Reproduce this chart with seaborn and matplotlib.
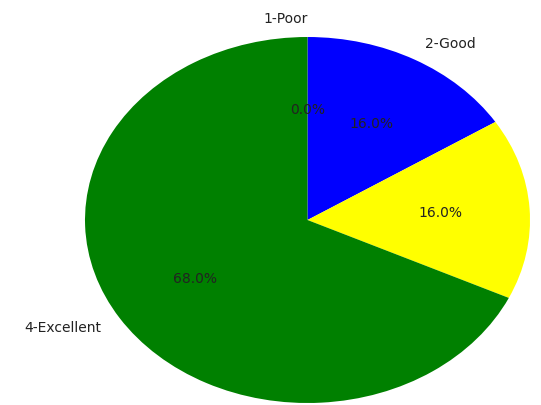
import matplotlib
matplotlib.use("Agg")
import matplotlib.pyplot as plt
import seaborn as sns

sns.set_style("white")
plt.rcParams['font.family'] = ['DejaVu Sans']

# Survey rating counts
ratings = ["1-Poor", "2-Good", "3-Very Good", "4-Excellent"]
counts = [0, 4, 4, 17]
colors = ["red", "blue", "yellow", "green"]

fig = plt.figure(figsize=(5.41, 4.05), dpi=100)
ax = fig.add_axes([85 / 541, 2 / 405, 445 / 541, 366 / 405])

wedges, texts, autotexts = ax.pie(
    counts, labels=ratings, colors=colors, autopct="%1.1f%%",
    startangle=90, counterclock=False,
    wedgeprops={"linewidth": 0, "edgecolor": "none"},
    textprops={"fontsize": 10, "color": "#222222"})
# the third category's outer label falls past the right edge of the canvas
texts[2].set_visible(False)

ax.set_aspect("auto")
ax.set_xlim(-1, 1)
ax.set_ylim(-1, 1)

fig.savefig("out.png", dpi=100)
